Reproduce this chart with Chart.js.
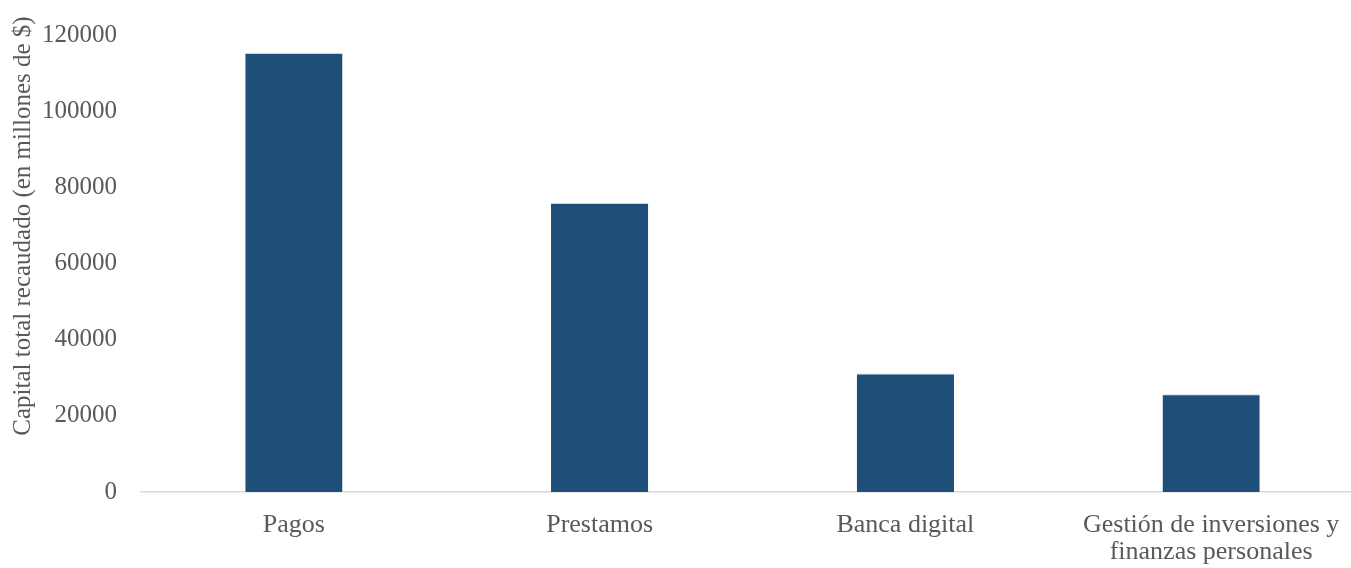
<!DOCTYPE html>
<html>
<head>
<meta charset="utf-8">
<script src="https://cdn.jsdelivr.net/npm/chart.js@4"></script>
<style>
  html, body { margin: 0; padding: 0; background: #fff; overflow: hidden; }
  #wrap { width: 1364px; height: 568px; }
</style>
</head>
<body>
<div id="wrap"><canvas id="chart"></canvas></div>
<script>
const categories = ['Pagos', 'Prestamos', 'Banca digital', ['Gestión de inversiones y', 'finanzas personales']];
const capital = [115300, 75900, 31100, 25700];
const yTitle = 'Capital total recaudado (en millones de $)';

const textColor = '#595959';
const fontFamily = '"Liberation Serif", "Times New Roman", serif';

new Chart(document.getElementById('chart'), {
    type: 'bar',
    data: {
        labels: categories,
        datasets: [{
            data: capital,
            backgroundColor: '#1f4e79',
            borderColor: '#c9d6e6',
            borderWidth: { top: 1, left: 0, right: 0, bottom: 0 },
            categoryPercentage: 1,
            barPercentage: 0.318
        }]
    },
    options: {
        responsive: true,
        maintainAspectRatio: false,
        animation: false,
        layout: { padding: { top: 35, left: 8, right: 0, bottom: 4 } },
        plugins: {
            legend: { display: false },
            tooltip: { enabled: false }
        },
        scales: {
            x: {
                grid: { display: false },
                border: { color: '#d9d9d9', width: 1.5 },
                ticks: {
                    color: textColor,
                    font: { family: fontFamily, size: 26, lineHeight: 1.06 },
                    padding: 11,
                    maxRotation: 0,
                    autoSkip: false
                },
                afterFit: scale => { scale.height = 72; }
            },
            y: {
                min: 0,
                max: 120000,
                grid: { display: false },
                border: { display: false },
                ticks: {
                    stepSize: 20000,
                    color: textColor,
                    font: { family: fontFamily, size: 25 },
                    padding: 16,
                    callback: v => String(v)
                },
                title: {
                    display: true,
                    // leading em spaces lift the title a bit above the axis centre, like the original
                    text: '\u2003\u2003\u2003' + yTitle,
                    color: textColor,
                    font: { family: fontFamily, size: 25, lineHeight: 1.2 },
                    padding: { top: 0, bottom: 4 }
                },
                afterFit: scale => { scale.width = 133; }
            }
        }
    }
});
</script>
</body>
</html>
